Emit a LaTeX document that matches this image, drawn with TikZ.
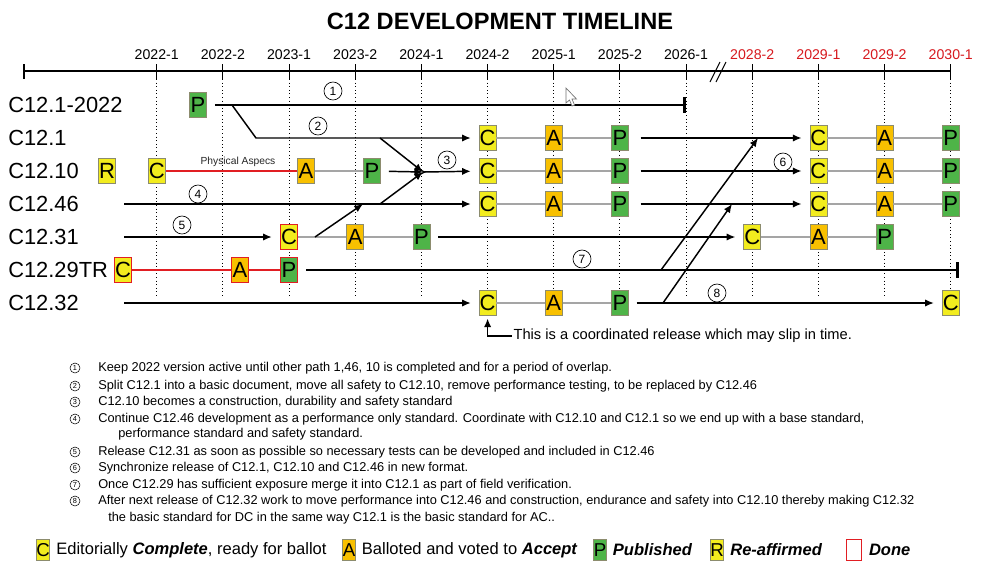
\documentclass[tikz,border=0pt]{standalone}
\usepackage{fontspec}
\setmainfont{Liberation Sans}
\usetikzlibrary{arrows.meta,positioning}

\definecolor{cyel}{RGB}{242,236,30}
\definecolor{aorg}{RGB}{248,192,0}
\definecolor{pgrn}{RGB}{78,180,72}
\definecolor{boxedge}{RGB}{140,140,110}
\definecolor{linkgray}{RGB}{165,165,165}
\definecolor{donered}{RGB}{225,30,35}
\definecolor{futred}{RGB}{215,25,30}

\tikzset{
  stbox/.style={draw=boxedge, line width=0.5pt, minimum width=12.75pt, minimum height=18.75pt, inner sep=0pt, font=\fontsize{16.5}{16.5}\selectfont},
  cbox/.style={stbox, fill=cyel},
  abox/.style={stbox, fill=aorg},
  pbox/.style={stbox, fill=pgrn},
  done/.style={draw=donered, line width=1.1pt},
  link/.style={draw=linkgray, line width=0.8pt},
  redlink/.style={draw=donered, line width=0.9pt},
  flow/.style={line width=1.1pt, -{Latex[length=6.5pt,width=5.5pt]}},
  endbar/.style={line width=1.3pt, -{Bar[width=12pt,line width=2pt]}},
  num/.style={draw, circle, line width=0.5pt, inner sep=0pt, minimum size=13.5pt, font=\fontsize{9}{9}\selectfont},
  notenum/.style={draw, circle, line width=0.4pt, inner sep=0pt, minimum size=7.5pt, font=\fontsize{5.5}{5.5}\selectfont},
  rowlbl/.style={anchor=west, inner sep=0pt, font=\fontsize{16.4}{16.4}\selectfont},
  yearlbl/.style={font=\fontsize{10.6}{10.6}\selectfont},
  note/.style={anchor=west, inner sep=0pt, font=\fontsize{9.6}{11}\selectfont},
  legbox/.style={stbox, minimum width=9.5pt, minimum height=15.75pt, font=\fontsize{14}{14}\selectfont},
  legtext/.style={inner sep=0pt, font=\fontsize{12.4}{12.4}\selectfont},
}

\begin{document}
\begin{tikzpicture}[x=0.75pt, y=-0.75pt]
\path[fill=white] (0,0) rectangle (1000,569);
\useasboundingbox (0,0) rectangle (1000,569);

% title
\node[font=\bfseries\fontsize{17.7}{17.7}\selectfont] (title) at (500,21) {C12 DEVELOPMENT TIMELINE};

% time axis
\draw[line width=0.8pt] (24,71) -- (950.7,71);
\draw[line width=0.8pt] (24,64) -- (24,79);
\foreach \yr [count=\i from 0] in {2022-1,2022-2,2023-1,2023-2,2024-1,2024-2,2025-1,2025-2,2026-1,2028-2,2029-1,2029-2,2030-1} {
  \pgfmathsetmacro{\xx}{156.7+66.17*\i}
  \ifnum\i>8 \def\yrcol{futred}\else\def\yrcol{black}\fi
  \node[yearlbl, text=\yrcol] (yr\i) at (\xx,55) {\yr};
  \draw[line width=0.8pt] (\xx,64) -- (\xx,79);
  \draw[line width=0.7pt, dotted] (\xx,79) -- (\xx,296);
}
\draw[line width=0.8pt] (710,82) -- (720,62) (716,82) -- (726,62);

% row labels
\node[rowlbl] (lbl1) at (8,105) {C12.1-2022};
\node[rowlbl] (lbl2) at (8,138) {C12.1};
\node[rowlbl] (lbl3) at (8,171) {C12.10};
\node[rowlbl] (lbl4) at (8,204) {C12.46};
\node[rowlbl] (lbl5) at (8,237) {C12.31};
\node[rowlbl] (lbl6) at (8,270) {C12.29TR};
\node[rowlbl] (lbl7) at (8,303) {C12.32};

% status boxes
\node[pbox] (r1P) at (198,105) {P};

\node[cbox] (r2C1) at (487.6,138) {C};
\node[abox] (r2A1) at (553.7,138) {A};
\node[pbox] (r2P1) at (619.9,138) {P};
\node[cbox] (r2C2) at (818.4,138) {C};
\node[abox] (r2A2) at (884.6,138) {A};
\node[pbox] (r2P2) at (950.7,138) {P};

\node[cbox] (r3R) at (107,171) {R};
\node[cbox] (r3C0) at (156.7,171) {C};
\node[abox] (r3A0) at (306,171) {A};
\node[pbox] (r3P0) at (372,171) {P};
\node[cbox] (r3C1) at (487.6,171) {C};
\node[abox] (r3A1) at (553.7,171) {A};
\node[pbox] (r3P1) at (619.9,171) {P};
\node[cbox] (r3C2) at (818.4,171) {C};
\node[abox] (r3A2) at (884.6,171) {A};
\node[pbox] (r3P2) at (950.7,171) {P};

\node[cbox] (r4C1) at (487.6,204) {C};
\node[abox] (r4A1) at (553.7,204) {A};
\node[pbox] (r4P1) at (619.9,204) {P};
\node[cbox] (r4C2) at (818.4,204) {C};
\node[abox] (r4A2) at (884.6,204) {A};
\node[pbox] (r4P2) at (950.7,204) {P};

\node[cbox, done] (r5C0) at (289,237) {C};
\node[abox] (r5A0) at (355.2,237) {A};
\node[pbox] (r5P0) at (421.4,237) {P};
\node[cbox] (r5C1) at (752.2,237) {C};
\node[abox] (r5A1) at (818.4,237) {A};
\node[pbox] (r5P1) at (884.6,237) {P};

\node[cbox, done] (r6C) at (123,270) {C};
\node[abox, done] (r6A) at (240,270) {A};
\node[pbox, done] (r6P) at (289,270) {P};

\node[cbox] (r7C1) at (487.6,303) {C};
\node[abox] (r7A1) at (553.7,303) {A};
\node[pbox] (r7P1) at (619.9,303) {P};
\node[cbox] (r7C2) at (950.7,303) {C};

% links between boxes
\draw[link] (r2C1) -- (r2A1) -- (r2P1);
\draw[link] (r2C2) -- (r2A2) -- (r2P2);
\draw[redlink] (r3C0) -- (r3A0);
\draw[link] (r3A0) -- (r3P0);
\draw[link] (r3C1) -- (r3A1) -- (r3P1);
\draw[link] (r3C2) -- (r3A2) -- (r3P2);
\draw[link] (r4C1) -- (r4A1) -- (r4P1);
\draw[link] (r4C2) -- (r4A2) -- (r4P2);
\draw[link] (r5C0) -- (r5A0) -- (r5P0);
\draw[link] (r5C1) -- (r5A1) -- (r5P1);
\draw[redlink] (r6C) -- (r6A) -- (r6P);
\draw[link] (r7C1) -- (r7A1) -- (r7P1);
\node[font=\fontsize{7.7}{7.7}\selectfont, text=black!85] (phys) at (238,162) {Physical Aspecs};

% paths
\coordinate (end1) at (686.1,105);
\coordinate (split2) at (232,105);
\coordinate (bend2) at (256,138);
\coordinate (fork1) at (380,138);
\coordinate (junc) at (423,172);
\coordinate (fork46) at (380,204);
\coordinate (start4) at (124,204);
\coordinate (start5) at (124,237);
\coordinate (fork31) at (315,237);
\coordinate (join46) at (363,204);
\coordinate (end7) at (959,270);
\coordinate (fork29) at (661,270);
\coordinate (join1) at (758,138);
\coordinate (start7) at (124,303);
\coordinate (fork32) at (663,303);
\coordinate (join46b) at (732,204);

\draw[endbar, shorten <=6pt] (r1P) -- (end1);
\draw[flow, shorten >=6pt] (split2) -- (bend2) -- (r2C1);
\draw[flow] (fork1) -- (junc);
\draw[flow, shorten <=6pt] (r3P0) -- (junc);
\draw[flow] (fork46) -- (junc);
\fill (junc) -- ++(-5,-4) -- ++(8,4) -- ++(-8,4) -- cycle;
\draw[flow, shorten >=6pt] (junc) -- (r3C1);
\draw[flow, shorten >=6pt] (start4) -- (r4C1);
\draw[flow, shorten >=6pt] (start5) -- (r5C0);
\draw[flow] (fork31) -- (join46);
\draw[flow, shorten <=6pt, shorten >=6pt] (r5P0) -- (r5C1);
\draw[endbar, shorten <=6pt] (r6P) -- (end7);
\draw[flow] (fork29) -- (join1);
\draw[flow, shorten >=6pt] (start7) -- (r7C1);
\draw[flow, shorten <=6pt, shorten >=6pt] (r7P1) -- (r7C2);
\draw[flow] (fork32) -- (join46b);
\draw[flow, shorten <=9pt, shorten >=6pt] (r2P1) -- (r2C2);
\draw[flow, shorten <=9pt, shorten >=6pt] (r3P1) -- (r3C2);
\draw[flow, shorten <=9pt, shorten >=6pt] (r4P1) -- (r4C2);

% path numbers
\node[num] (n1) at (333,91) {1};
\node[num] (n2) at (318,126) {2};
\node[num] (n3) at (447,160) {3};
\node[num] (n4) at (198,194) {4};
\node[num] (n5) at (182,225) {5};
\node[num] (n6) at (783,162) {6};
\node[num] (n7) at (582,259) {7};
\node[num] (n8) at (717,293) {8};

% coordinated release
\node[anchor=west, inner xsep=1pt, inner ysep=0pt, font=\fontsize{11}{11}\selectfont] (slip) at (512,336) {This is a coordinated release which may slip in time.};
\draw[line width=1.1pt, -{Latex[length=6.5pt,width=5.5pt]}, shorten >=2pt] (slip.west) -| (r7C1.south);

% cursor
\draw[black!55, line width=0.5pt, fill=white] (566,88) -- (566,103) -- (569.5,100) -- (572,106) -- (574.5,105) -- (572,99) -- (576.5,99) -- cycle;

% notes
\node[notenum] (m1) at (75,368) {1};
\node[note] (t1) at (98,368) {Keep 2022 version active until other path 1,46, 10 is completed and for a period of overlap.};
\node[notenum] (m2) at (75,386) {2};
\node[note] (t2) at (98,386) {Split C12.1 into a basic document, move all safety to C12.10, remove performance testing, to be replaced by C12.46};
\node[notenum] (m3) at (75,402) {3};
\node[note] (t3) at (98,402) {C12.10 becomes a construction, durability and safety standard};
\node[notenum] (m4) at (75,419) {4};
\node[note] (t4) at (98,419) {Continue C12.46 development as a performance only standard. Coordinate with C12.10 and C12.1 so we end up with a base standard,};
\node[note] (t4b) at (118,434) {performance standard and safety standard.};
\node[notenum] (m5) at (75,452) {5};
\node[note] (t5) at (98,452) {Release C12.31 as soon as possible so necessary tests can be developed and included in C12.46};
\node[notenum] (m6) at (75,468) {6};
\node[note] (t6) at (98,468) {Synchronize release of C12.1, C12.10 and C12.46 in new format.};
\node[notenum] (m7) at (75,485) {7};
\node[note] (t7) at (98,485) {Once C12.29 has sufficient exposure merge it into C12.1 as part of field verification.};
\node[notenum] (m8) at (75,501) {8};
\node[note] (t8) at (98,501) {After next release of C12.32 work to move performance into C12.46 and construction, endurance and safety into C12.10 thereby making C12.32};
\node[note] (t8b) at (108,518) {the basic standard for DC in the same way C12.1 is the basic standard for AC..};

% legend
\node[legbox, fill=cyel] (lgC) at (43,550) {C};
\node[legtext, right=4.5pt of lgC] (lgCt) {Editorially \textbf{\textit{Complete}}, ready for ballot};
\node[legbox, fill=aorg] (lgA) at (349,550) {A};
\node[legtext, right=4.5pt of lgA] (lgAt) {Balloted and voted to \textbf{\textit{Accept}}};
\node[legbox, fill=pgrn] (lgP) at (600,550) {P};
\node[legtext, right=4.5pt of lgP] (lgPt) {\textbf{\textit{Published}}};
\node[legbox, fill=cyel] (lgR) at (717,550) {R};
\node[legtext, right=4.5pt of lgR] (lgRt) {\textbf{\textit{Re-affirmed}}};
\node[legbox, fill=white, done, minimum width=11pt] (lgD) at (854,550) {};
\node[legtext, right=5pt of lgD] (lgDt) {\textbf{\textit{Done}}};
\end{tikzpicture}
\end{document}
